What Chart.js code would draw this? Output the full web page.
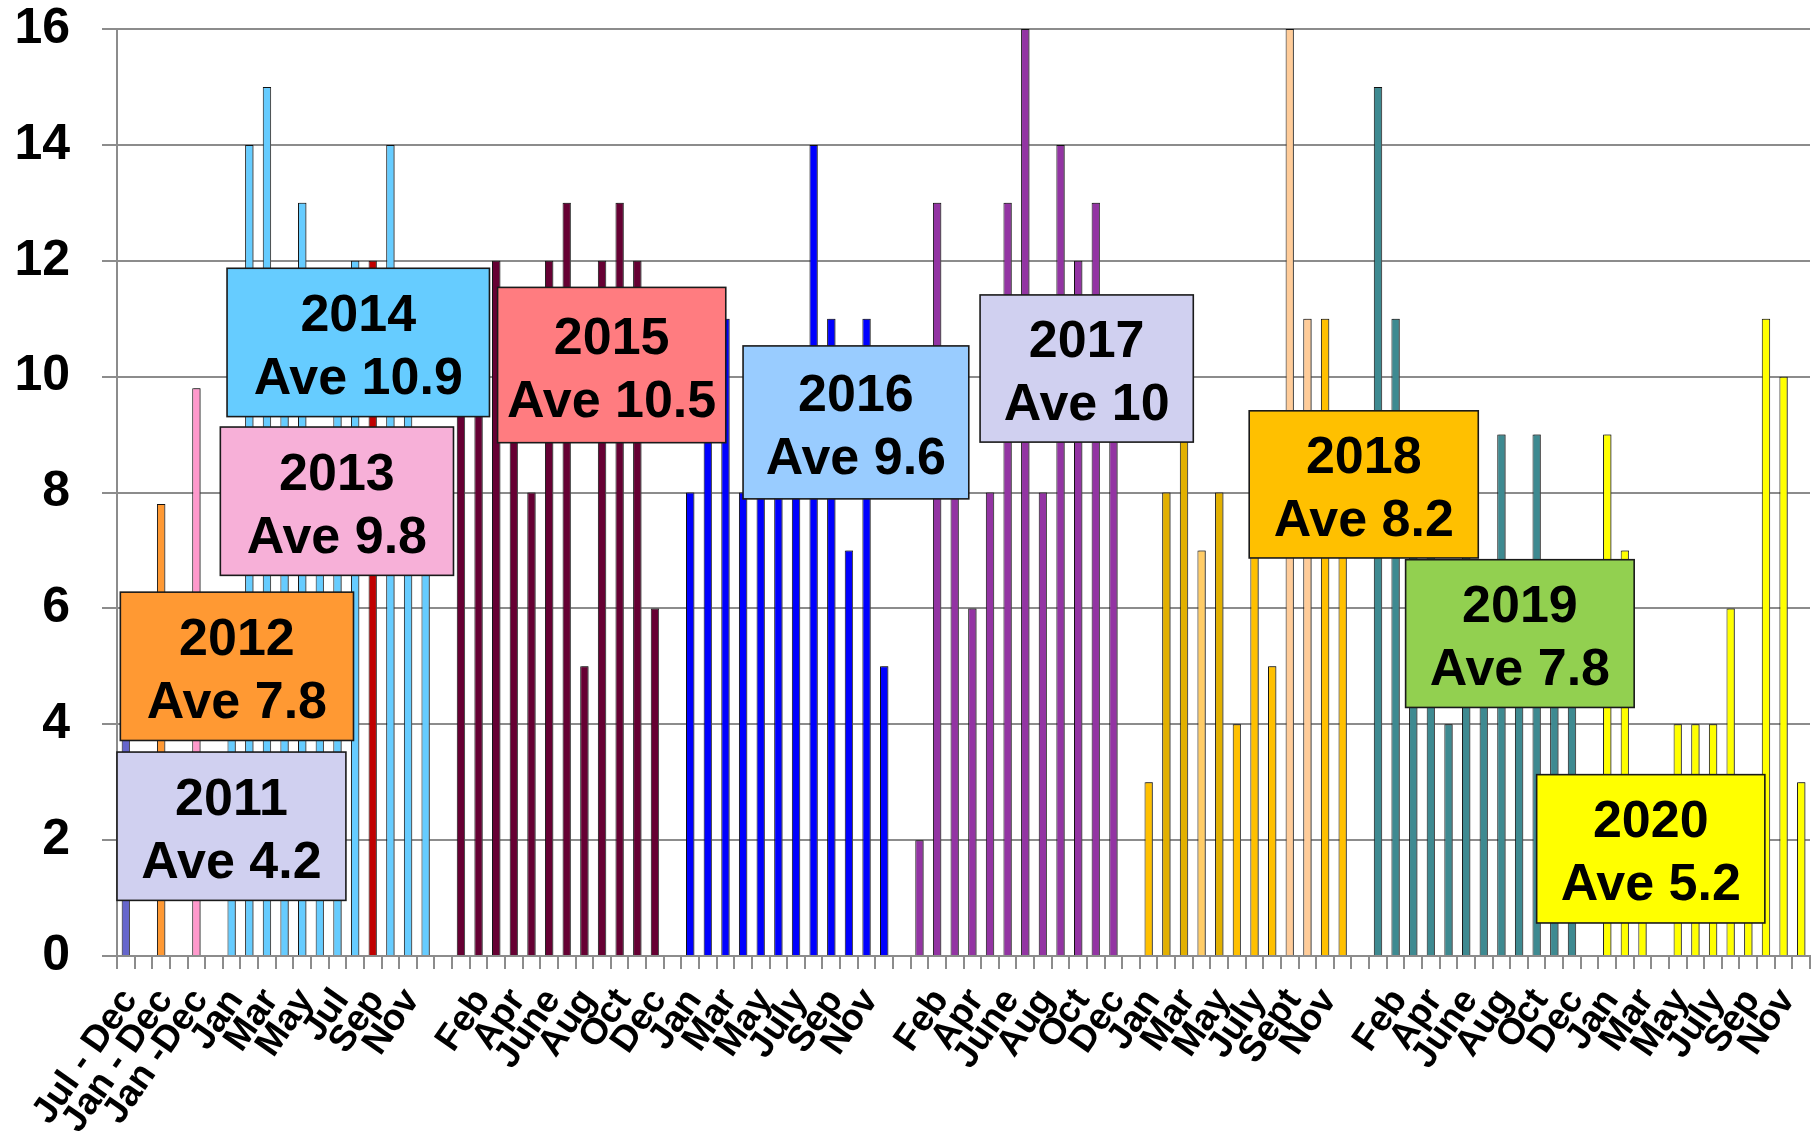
<!DOCTYPE html>
<html>
<head>
<meta charset="utf-8">
<script src="https://cdn.jsdelivr.net/npm/chart.js@4/dist/chart.umd.min.js"></script>
<style>
  html, body { margin: 0; padding: 0; background: #ffffff; }
  #wrap { width: 1816px; height: 1132px; }
</style>
</head>
<body>
<div id="wrap"><canvas id="c" width="1816" height="1132"></canvas></div>
<script>
// ---------------- DATA ----------------
const periodLabels = ['Jul - Dec', 'Jan - Dec', 'Jan -Dec'];   // 2011, 2012, 2013
const periodValues = [4.2, 7.8, 9.8];

const months2014 = ['Jan','Feb','Mar','Apr','May','Jun','Jul','Aug','Sep','Oct','Nov','Dec'];
const months2015 = ['Jan','Feb','Mar','Apr','May','June','July','Aug','Sep','Oct','Nov','Dec'];
const months2016 = ['Jan','Feb','Mar','Apr','May','June','July','Aug','Sep','Oct','Nov','Dec'];
const months2017 = ['Jan','Feb','Mar','Apr','May','June','July','Aug','Sep','Oct','Nov','Dec'];
const months2018 = ['Jan','Feb','Mar','Apr','May','June','July','Aug','Sept','Oct','Nov','Dec'];
const months2019 = ['Jan','Feb','Mar','Apr','May','June','July','Aug','Sep','Oct','Nov','Dec'];
const months2020 = ['Jan','Feb','Mar','Apr','May','June','July','Aug','Sep','Oct','Nov','Dec'];

const values2014 = [5, 14, 15, 10, 13, 8, 10, 12, 12, 14, 10, 8];
const values2015 = [11, 11, 12, 11, 8, 12, 13, 5, 12, 13, 12, 6];
const values2016 = [8, 10, 11, 8, 10, 10, 10, 14, 11, 7, 11, 5];
const values2017 = [2, 13, 8, 6, 8, 13, 16, 8, 14, 12, 13, 9];
const values2018 = [3, 8, 9, 7, 8, 4, 8, 5, 16, 11, 11, 8];
const values2019 = [15, 11, 7, 7, 4, 8, 6, 9, 6, 9, 6, 6];
const values2020 = [9, 7, 2, null, 4, 4, 4, 6, 2, 11, 10, 3];

const boxYears = ['2011','2012','2013','2014','2015','2016','2017','2018','2019','2020'];
const boxAverages = ['4.2','7.8','9.8','10.9','10.5','9.6','10','8.2','7.8','5.2'];

const yTicks = [0, 2, 4, 6, 8, 10, 12, 14, 16];

// ---------------- STYLE ----------------
const periodColors = ['#6666CC', '#FF9933', '#FF99CC'];
const yearBarColors = {
  2014: '#66CCFF', 2015: '#660033', 2016: '#0000FF', 2017: '#9334A3',
  2018: '#FFC000', 2019: '#3E8A91', 2020: '#FFFF00'
};
const barColorOverrides = {
  2014: { 8: '#C00000' },
  2018: { 1: '#E2B000', 2: '#E2B000', 3: '#FFCC66', 4: '#E2B000', 8: '#FFCC99', 9: '#FFCC99' }
};
const boxFill = ['#D0D0F0','#FF9933','#F7B0D8','#66CCFF','#FF7C80','#99CCFF','#D0D0F0','#FFC000','#92D050','#FFFF00'];
// box layout: [left slot edge, right slot edge, top value, bottom value]
const boxLayout = [
  [0.00, 12.98, 3.52, 0.96],
  [0.19, 13.41, 6.28, 3.72],
  [5.86, 19.08, 9.13, 6.57],
  [6.24, 21.12, 11.87, 9.31],
  [21.58, 34.52, 11.54, 8.86],
  [35.50, 48.30, 10.53, 7.89],
  [48.94, 61.03, 11.41, 8.87],
  [64.20, 77.19, 9.41, 6.87],
  [73.07, 86.03, 6.84, 4.29],
  [80.50, 93.44, 3.13, 0.57]
];

// ---------------- BUILD ----------------
const categories = [];
const values = [];
const colors = [];
periodLabels.forEach((lab, i) => {
  categories.push(lab); values.push(periodValues[i]); colors.push(periodColors[i]);
  categories.push(''); values.push(null); colors.push('#000');
});
const yearBlocks = [
  [2014, months2014, values2014], [2015, months2015, values2015], [2016, months2016, values2016],
  [2017, months2017, values2017], [2018, months2018, values2018], [2019, months2019, values2019],
  [2020, months2020, values2020]
];
yearBlocks.forEach(([yr, labs, vals], bi) => {
  labs.forEach((lab, m) => {
    categories.push(lab);
    values.push(vals[m]);
    const ov = barColorOverrides[yr] && barColorOverrides[yr][m];
    colors.push(ov || yearBarColors[yr]);
  });
  if (bi < yearBlocks.length - 1) { categories.push(''); values.push(null); colors.push('#000'); }
});

const FONT = "'Liberation Sans', Arial, sans-serif";
const GRID = '#8C8C8C';

const barShadow = {
  id: 'barShadow',
  beforeDatasetsDraw(chart) {
    const ctx = chart.ctx;
    ctx.save();
    ctx.shadowColor = 'rgba(90,90,90,0.85)';
    ctx.shadowOffsetX = 1.5;
    ctx.shadowOffsetY = 0;
    ctx.shadowBlur = 0;
  },
  afterDatasetsDraw(chart) { chart.ctx.restore(); }
};

const boxPlugin = {
  id: 'yearBoxes',
  afterDraw(chart) {
    const ctx = chart.ctx;
    const xs = chart.scales.x, ys = chart.scales.y;
    ctx.save();
    boxLayout.forEach((b, i) => {
      const x0 = xs.getPixelForValue(b[0] - 0.5);
      const x1 = xs.getPixelForValue(b[1] - 0.5);
      const y0 = ys.getPixelForValue(b[2]);
      const y1 = ys.getPixelForValue(b[3]);
      ctx.fillStyle = boxFill[i];
      ctx.fillRect(x0, y0, x1 - x0, y1 - y0);
      ctx.lineWidth = 1.6;
      ctx.strokeStyle = '#1A1A1A';
      ctx.strokeRect(x0, y0, x1 - x0, y1 - y0);
      const cx = (x0 + x1) / 2, cy = (y0 + y1) / 2;
      ctx.fillStyle = '#000';
      ctx.font = 'bold 52px ' + FONT;
      ctx.textAlign = 'center';
      ctx.textBaseline = 'alphabetic';
      ctx.fillText(boxYears[i], cx, cy - 11.5);
      ctx.fillText('Ave ' + boxAverages[i], cx, cy + 51.5);
    });
    ctx.restore();
  }
};

new Chart(document.getElementById('c'), {
  type: 'bar',
  data: {
    labels: categories,
    datasets: [{
      data: values,
      backgroundColor: colors,
      borderColor: '#111111',
      borderWidth: 1,
      barPercentage: 0.47,
      categoryPercentage: 1.0
    }]
  },
  options: {
    responsive: false,
    devicePixelRatio: 1,
    animation: false,
    layout: { padding: { left: 13, right: 6, top: 29, bottom: 0 } },
    plugins: { legend: { display: false }, tooltip: { enabled: false }, title: { display: false } },
    scales: {
      x: {
        grid: { display: true, drawOnChartArea: false, drawTicks: true, tickLength: 13, color: GRID, lineWidth: 2, offset: true },
        border: { display: true, color: GRID, width: 2 },
        ticks: {
          autoSkip: false,
          minRotation: 55, maxRotation: 55,
          padding: 14,
          labelOffset: 4,
          color: '#000',
          font: { family: FONT, size: 37, weight: 'bold', lineHeight: 1.0 },
          callback: function (val, idx) { return idx % 2 === 0 ? this.getLabelForValue(val) : ''; }
        },
        afterFit(scale) { scale.height = 176; scale.paddingLeft = 0; scale.paddingRight = 0; }
      },
      y: {
        min: 0, max: 16,
        afterBuildTicks(scale) { scale.ticks = yTicks.map(v => ({ value: v })); },
        grid: { color: GRID, lineWidth: 2, tickLength: 15, drawTicks: true },
        border: { display: true, color: GRID, width: 2 },
        ticks: {
          padding: 32,
          color: '#000',
          font: { family: FONT, size: 50, weight: 'bold', lineHeight: 1.2 }
        },
        afterFit(scale) { scale.width = 104; scale.paddingTop = 0; scale.paddingBottom = 0; }
      }
    }
  },
  plugins: [barShadow, boxPlugin]
});
</script>
</body>
</html>
